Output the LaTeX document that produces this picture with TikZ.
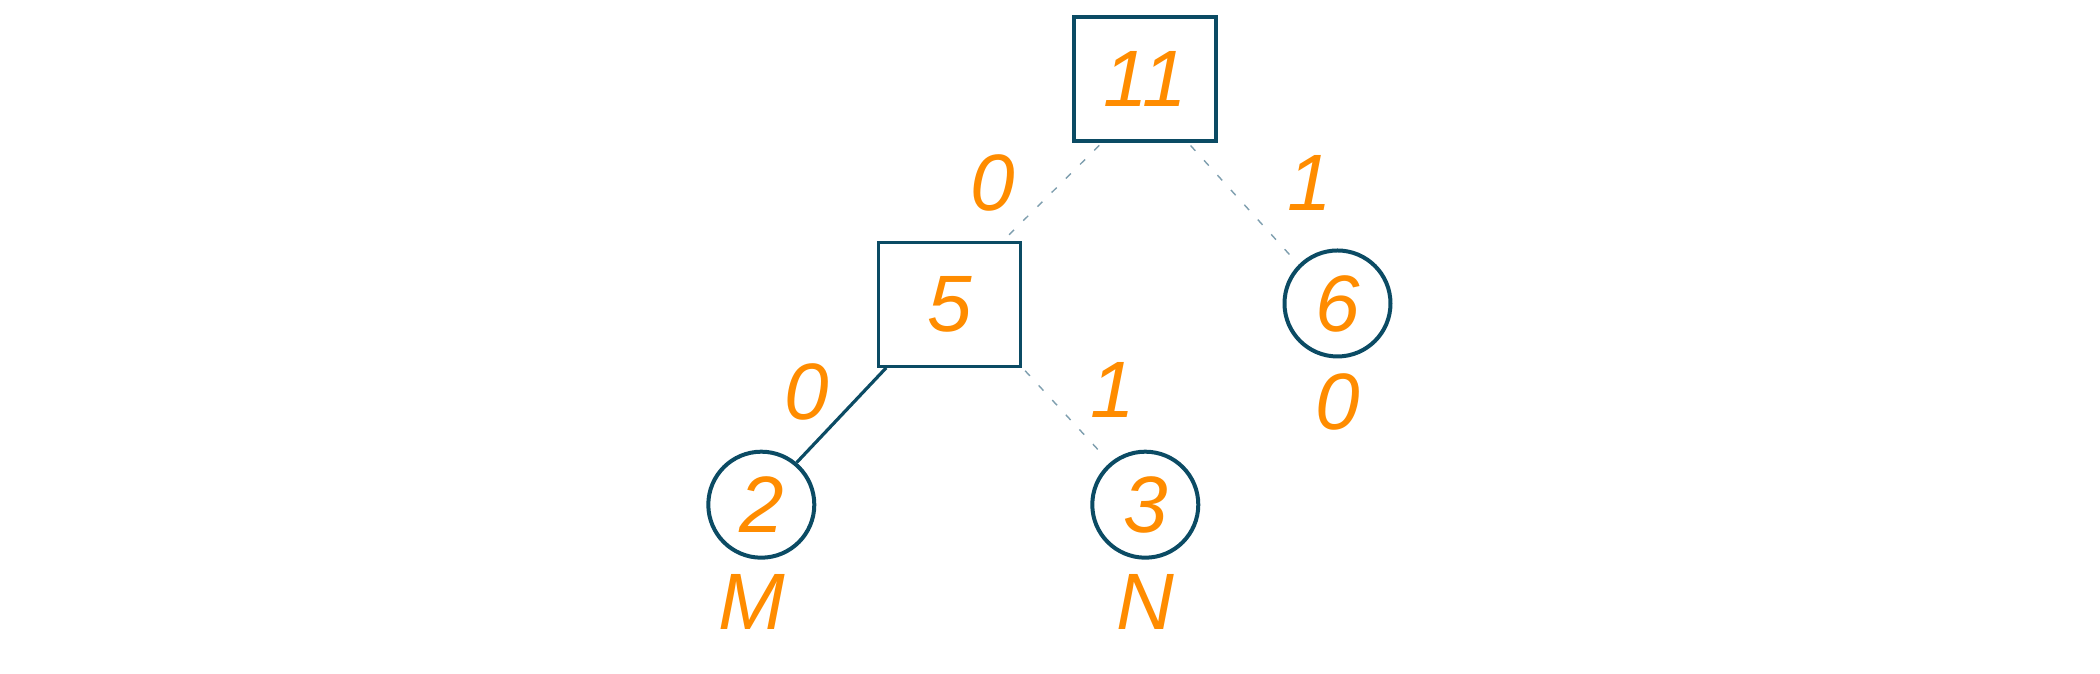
\documentclass[tikz,border=0pt]{standalone}
\usepackage{fontspec}
\setmainfont{Liberation Sans}
\usepackage{tikz}
\usetikzlibrary{calc,positioning}
\definecolor{nodeblue}{HTML}{0B4B64}
\definecolor{dashblue}{HTML}{7E9EAE}
\definecolor{handorange}{HTML}{FF8C00}
\tikzset{
sum_box/.style={rectangle, draw=nodeblue, line width=1.6pt, minimum width=71pt, minimum height=62pt, text=handorange, font=\itshape\fontsize{40}{40}\selectfont},
leaf/.style={circle, draw=nodeblue, line width=2pt, minimum size=53pt, text=handorange, font=\itshape\fontsize{40}{40}\selectfont},
bit/.style={rectangle, inner sep=0pt, text=handorange, font=\itshape\fontsize{40}{40}\selectfont},
tree_edge/.style={draw=nodeblue, line width=1.6pt},
dash_edge/.style={draw=dashblue, line width=0.7pt, dash pattern=on 3.5pt off 6.5pt, shorten <=2pt, shorten >=3pt}
}

\begin{document}
\begin{tikzpicture}[x=0.5pt, y=0.5pt]
    \useasboundingbox (0,0) rectangle (2100,674);
    \node[sum_box] (node_11) at (1145,595) {11};
    \node[sum_box] (node_5) [below left=49pt and 25pt of node_11] {5};
    \node[leaf] (leaf_6) [below right=61pt and 40.5pt of node_11] {6};
    \node[leaf] (leaf_2) [below left=49pt and 38.5pt of node_5] {2};
    \node[leaf] (leaf_3) [below right=49pt and 42pt of node_5] {3};
    \node[bit] (bit_6) [below=7.5pt of leaf_6] {0};
    \node[bit] (name_2) [below=7pt of leaf_2, xshift=-4.5pt] {M};
    \node[bit] (name_3) [below=7pt of leaf_3] {N};
    \draw[dash_edge] (node_11.236) -- (node_5.50) node[bit, midway, xshift=-30pt, yshift=4.5pt] (bit_115) {0};
    \draw[dash_edge] (node_11.304) -- (leaf_6.135) node[bit, midway, xshift=33pt, yshift=10.5pt] (bit_116) {1};
    \draw[tree_edge] (node_5.225) -- (leaf_2.50) node[bit, midway, xshift=-17.5pt, yshift=11.5pt] (bit_52) {0};
    \draw[dash_edge] (node_5.south east) -- (leaf_3.130) node[bit, midway, xshift=23.5pt, yshift=12.5pt] (bit_53) {1};
\end{tikzpicture}
\end{document}
